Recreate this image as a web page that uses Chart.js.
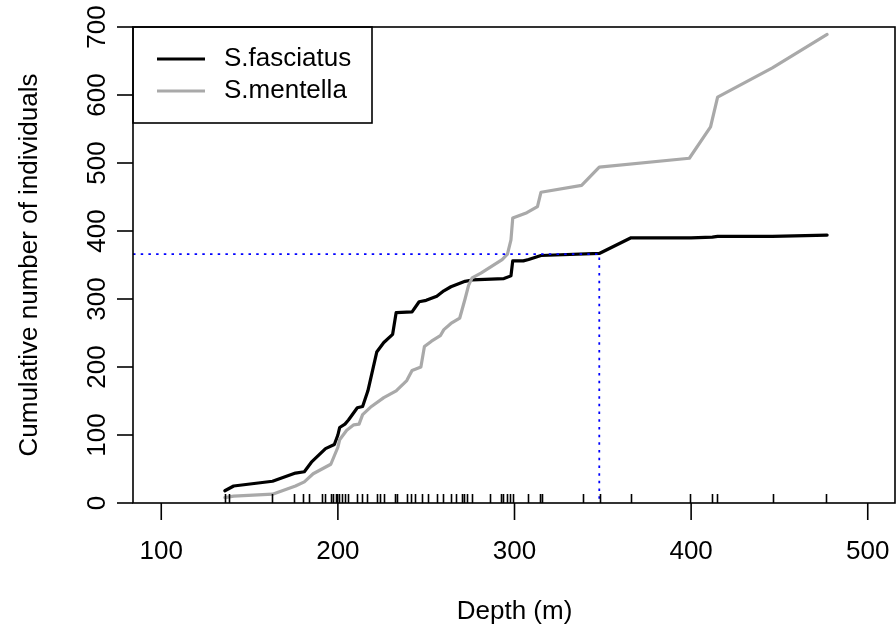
<!DOCTYPE html>
<html>
<head>
<meta charset="utf-8">
<script src="https://cdn.jsdelivr.net/npm/chart.js@4.4.1/dist/chart.umd.min.js"></script>
<style>
  html, body { margin: 0; padding: 0; background: #fff; }
  canvas { display: block; }
</style>
</head>
<body>
<canvas id="depthChart" width="896" height="634"></canvas>
<script>
// cumulative catch by depth, one curve per species
const fasciatusDepth = [136, 141, 163, 176, 181, 185, 193, 198, 200, 201, 204, 206, 211, 214, 217, 222, 226, 231, 233, 242, 246, 250, 256, 260, 264, 272, 276, 294, 298, 299, 305, 308, 315, 348, 366, 400, 412, 415, 446, 477];
const fasciatusCount = [18, 25, 32, 44, 46, 60, 80, 86, 100, 111, 116, 122, 140, 142, 165, 222, 236, 248, 280, 281, 296, 298, 304, 312, 318, 326, 328, 330, 334, 356, 356, 358, 364, 367, 390, 390, 391, 392, 392, 394];

const mentellaDepth = [136, 141, 163, 176, 181, 186, 196, 200, 201, 205, 209, 212, 214, 219, 226, 233, 239, 242, 247, 249, 253, 258, 260, 264, 269, 272, 274, 276, 281, 287, 293, 296, 298, 299, 307, 313, 315, 338, 348, 399, 411, 415, 446, 477];
const mentellaCount = [8, 10, 13, 25, 31, 43, 57, 82, 93, 107, 115, 116, 130, 142, 155, 165, 180, 195, 200, 230, 238, 246, 255, 264, 272, 300, 320, 331, 338, 348, 358, 366, 387, 419, 427, 436, 457, 467, 494, 507, 553, 597, 640, 689];

// sampled station depths (rug along the x axis)
const stationDepths = [136.3, 138.3, 162.8, 175.2, 180, 183.4, 190.8, 192.7, 196, 197.4, 198.9, 199.7, 200.8, 202.2, 204, 205.9, 211, 213.5, 216.7, 222, 223.9, 226.1, 232.4, 233.7, 239, 241.4, 243.7, 247.5, 251.2, 256, 259.7, 263.9, 267.1, 270.1, 271.4, 272.9, 275.8, 286.2, 292.2, 293.7, 295.6, 297.5, 299, 307.8, 314.3, 315.4, 338.8, 348.5, 365.9, 399.2, 411.6, 414.8, 446.4, 476.4];

// reference depth and count marked with dotted lines
const cutDepth = 348;
const cutCount = 366;

const xTicks = [100, 200, 300, 400, 500];
const yTicks = [0, 100, 200, 300, 400, 500, 600, 700];
const xRange = [84, 516];
const yRange = [0, 700];

const FONT = '26px "Liberation Sans", Arial, sans-serif';

function toPoints(xs, ys) {
  return xs.map((x, i) => ({ x: x, y: ys[i] }));
}

const rStyleAxes = {
  id: 'rStyleAxes',
  afterDraw(chart) {
    const ctx = chart.ctx;
    const area = chart.chartArea;
    const xs = chart.scales.x;
    const ys = chart.scales.y;
    ctx.save();
    ctx.strokeStyle = '#000';
    ctx.fillStyle = '#000';
    ctx.lineWidth = 1.6;
    ctx.lineCap = 'butt';

    // rug
    ctx.beginPath();
    stationDepths.forEach(d => {
      const px = Math.round(xs.getPixelForValue(d)) + 0.5;
      ctx.moveTo(px, area.bottom);
      ctx.lineTo(px, area.bottom - 9);
    });
    ctx.stroke();

    // box
    ctx.strokeRect(area.left, area.top, area.right - area.left - 1, area.bottom - area.top);

    // x ticks and labels
    ctx.font = FONT;
    ctx.textAlign = 'center';
    ctx.textBaseline = 'middle';
    xTicks.forEach(t => {
      const px = xs.getPixelForValue(t);
      ctx.beginPath();
      ctx.moveTo(px, area.bottom);
      ctx.lineTo(px, area.bottom + 17);
      ctx.stroke();
      ctx.fillText(String(t), px, 552);
    });

    // y ticks and rotated labels
    yTicks.forEach(t => {
      const py = ys.getPixelForValue(t);
      ctx.beginPath();
      ctx.moveTo(area.left, py);
      ctx.lineTo(area.left - 16, py);
      ctx.stroke();
      ctx.save();
      ctx.translate(98, py);
      ctx.rotate(-Math.PI / 2);
      ctx.fillText(String(t), 0, 0);
      ctx.restore();
    });

    // axis titles
    ctx.fillText('Depth (m)', (area.left + area.right) / 2, 612);
    ctx.save();
    ctx.translate(30, (area.top + area.bottom) / 2);
    ctx.rotate(-Math.PI / 2);
    ctx.fillText('Cumulative number of individuals', 0, 0);
    ctx.restore();

    // legend
    ctx.strokeRect(area.left, area.top, 239, 96);
    ctx.textAlign = 'left';
    [0, 1].forEach((i, row) => {
      const ds = chart.data.datasets[i];
      const ly = 59 + row * 32;
      ctx.beginPath();
      ctx.strokeStyle = ds.borderColor;
      ctx.lineWidth = 3.2;
      ctx.moveTo(157, ly);
      ctx.lineTo(205, ly);
      ctx.stroke();
      ctx.fillText(ds.label, 224, ly);
    });
    ctx.restore();
  }
};

new Chart(document.getElementById('depthChart'), {
  type: 'line',
  data: {
    datasets: [
      {
        label: 'S.fasciatus',
        data: toPoints(fasciatusDepth, fasciatusCount),
        borderColor: '#000000',
        borderWidth: 3.2,
        order: 2
      },
      {
        label: 'S.mentella',
        data: toPoints(mentellaDepth, mentellaCount),
        borderColor: '#a9a9a9',
        borderWidth: 3.2,
        order: 1
      },
      {
        label: 'cut',
        data: [{ x: xRange[0], y: cutCount }, { x: cutDepth, y: cutCount }, { x: cutDepth, y: 0 }],
        borderColor: '#0000ff',
        borderWidth: 1.8,
        borderDash: [2.5, 5.2],
        borderCapStyle: 'butt',
        order: 0
      }
    ]
  },
  options: {
    responsive: false,
    devicePixelRatio: 1,
    animation: false,
    elements: {
      point: { radius: 0 },
      line: { tension: 0, borderJoinStyle: 'round', borderCapStyle: 'round', fill: false }
    },
    layout: { padding: { left: 133, top: 27, right: 0, bottom: 131 } },
    scales: {
      x: { type: 'linear', min: xRange[0], max: xRange[1], display: false },
      y: { type: 'linear', min: yRange[0], max: yRange[1], display: false }
    },
    plugins: {
      legend: { display: false },
      tooltip: { enabled: false }
    }
  },
  plugins: [rStyleAxes]
});
</script>
</body>
</html>
